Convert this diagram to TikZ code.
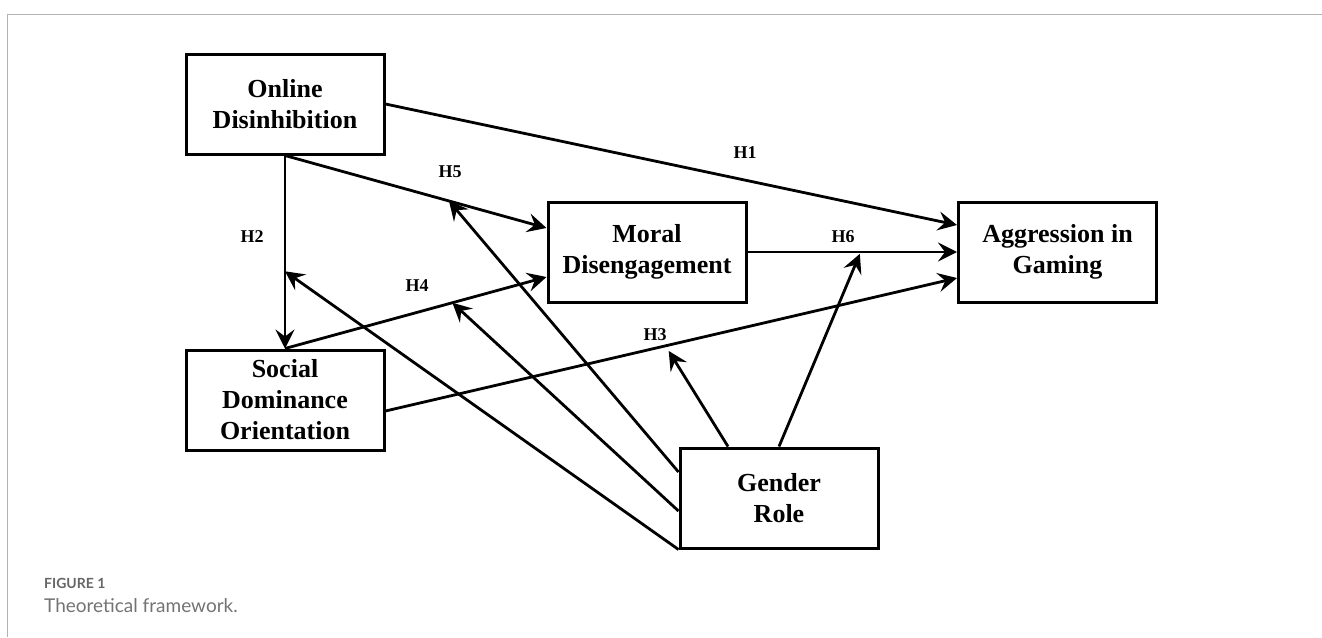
\documentclass[tikz,border=0pt]{standalone}
\usepackage{fontspec}
\setmainfont{Liberation Serif}
\newfontfamily\capfont{Lato}
\usepackage{xcolor}
\usetikzlibrary{arrows.meta, positioning, calc}

\begin{document}
\begin{tikzpicture}[
    x=1pt, y=-1pt,
    block/.style={
        rectangle,
        draw,
        text centered,
        align=center,
        minimum width=198pt,
        minimum height=100pt,
        line width=3pt,
        font=\fontsize{26}{31}\selectfont\bfseries
    },
    arrow/.style={line width=2.8pt,-{Stealth[length=19pt,width=19pt,inset=7pt]}},
    hyp/.style={font=\fontsize{18}{20}\selectfont\bfseries},
    caption/.style={anchor=west, inner sep=0pt}
]

\useasboundingbox (0,0) rectangle (1322,637);
\draw [gray!60, line width=1pt] (1322,14) -- (7,14) -- (7,637);

\node (online) [block] at (285,104) {Online\\Disinhibition};
\node (moral) [block] at (647,252) {Moral\\Disengagement};
\node (aggr) [block] at (1057.5,252) {Aggression in\\Gaming};
\node (social) [block] at (285,400) {Social\\Dominance\\Orientation};
\node (gender) [block] at (779,498) {Gender\\Role};

% main paths
\draw [arrow] (online.east) -- ([yshift=27pt]aggr.west);
\draw [arrow] (online.south) -- ([yshift=24pt]moral.west);
\draw [arrow] (online.south) -- (social.north);
\draw [arrow] (social.north) -- ([yshift=-25pt]moral.west);
\draw [arrow] ([yshift=-11pt]social.east) -- ([yshift=-26pt]aggr.west);
\draw [arrow] (moral.east) -- (aggr.west);

% points where the moderator meets each path
\path (online.south) -- coordinate[pos=0.6] (m2) (social.north);
\path (online.south) -- coordinate[pos=0.627] (m5) ([yshift=24pt]moral.west);
\path (social.north) -- coordinate[pos=0.64] (m4) ([yshift=-25pt]moral.west);
\path ([yshift=-11pt]social.east) -- coordinate[pos=0.49] (m3) ([yshift=-26pt]aggr.west);
\path (moral.east) -- coordinate[pos=0.54] (m6) (aggr.west);

\draw [arrow] ([yshift=26pt]gender.west) -- (m5);
\draw [arrow] ([yshift=-13pt]gender.west) -- (m4);
\draw [arrow] (gender.south west) -- (m2);
\draw [arrow, shorten >=6pt] ([xshift=-51pt]gender.north) -- (m3);
\draw [arrow, shorten >=2pt] (gender.north) -- (m6);

\node (h1) [hyp] at (745,153) {H1};
\node (h2) [hyp] at (252,237) {H2};
\node (h3) [hyp] at (655,335) {H3};
\node (h4) [hyp] at (417,286) {H4};
\node (h5) [hyp] at (450,172) {H5};
\node (h6) [hyp] at (843,237) {H6};

\node (fig) [caption, text=black!60, font=\capfont\bfseries\fontsize{14}{16}\selectfont] at (44,583) {FIGURE 1};
\node (title) [caption, text=black!55, font=\capfont\fontsize{19}{21}\selectfont] at (44,606) {Theoretical framework.};

\end{tikzpicture}
\end{document}
